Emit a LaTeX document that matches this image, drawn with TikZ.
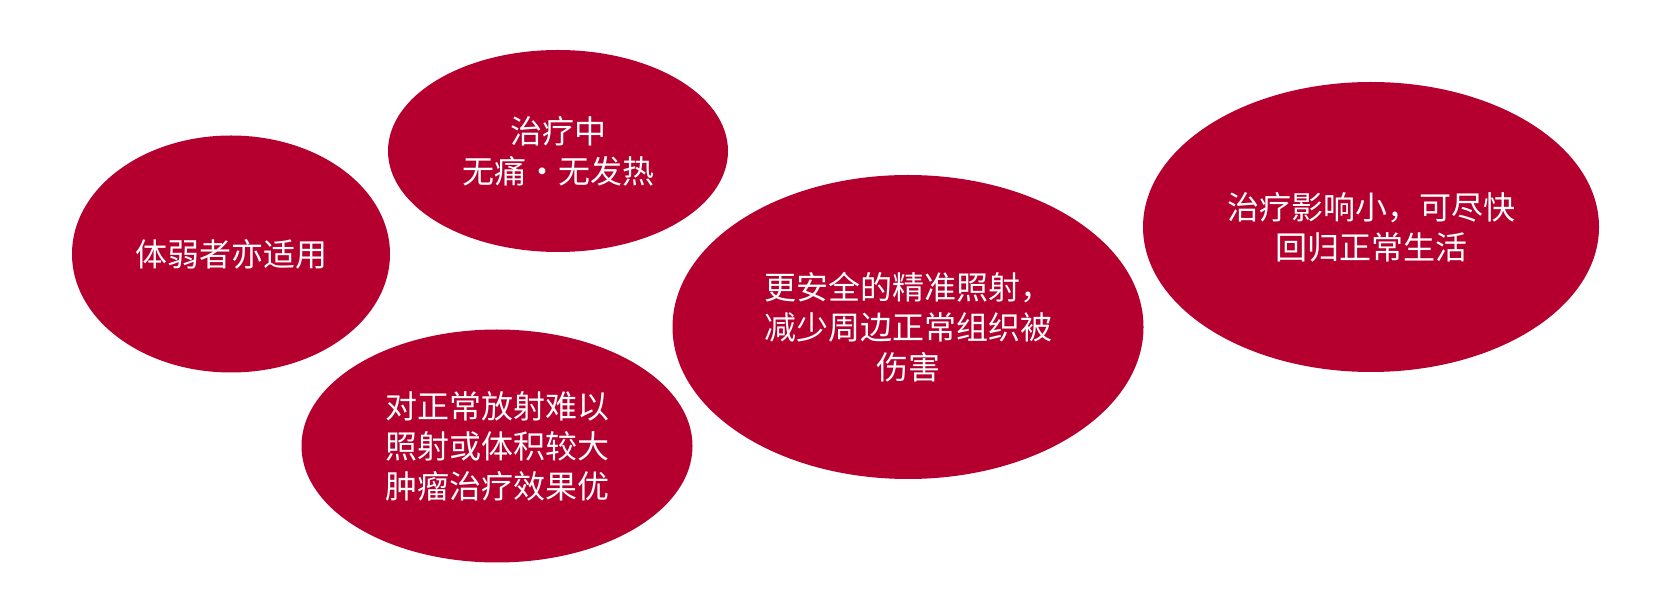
\documentclass[tikz,border=0pt]{standalone}
\usepackage{fontspec}
\newfontfamily\cjk{Noto Sans CJK SC}
\usetikzlibrary{shapes.geometric}
\definecolor{bubbleRed}{HTML}{B5002F}

\begin{document}
\begin{tikzpicture}[
    x=0.5pt, y=-0.5pt,
    bubble/.style={ellipse, fill=bubbleRed, inner sep=0pt, text=white,
                   font=\cjk\fontsize{16}{20}\selectfont,
                   align=center}, % text sits in the middle
]

\useasboundingbox (0,0) rectangle (1659,603);

%-----------------------------------------------------------------------
% left group
\node[bubble, minimum width=159pt, minimum height=118.5pt] (weak)
    at (231,254) {体弱者亦适用};

\node[bubble, minimum width=170pt, minimum height=101pt] (painless)
    at (558,151) {治疗中\\无痛・无发热};

\node[bubble, minimum width=195.5pt, minimum height=116.5pt] (tumor)
    at (497,446) {对正常放射难以\\照射或体积较大\\肿瘤治疗效果优};

%-----------------------------------------------------------------------
% middle and right
\node[bubble, minimum width=235.5pt, minimum height=152pt] (safe)
    at (908,327) {更安全的精准照射，\\减少周边正常组织被\\伤害};

\node[bubble, minimum width=228pt, minimum height=145pt] (life)
    at (1371,227) {治疗影响小，可尽快\\回归正常生活};

\end{tikzpicture}
\end{document}
